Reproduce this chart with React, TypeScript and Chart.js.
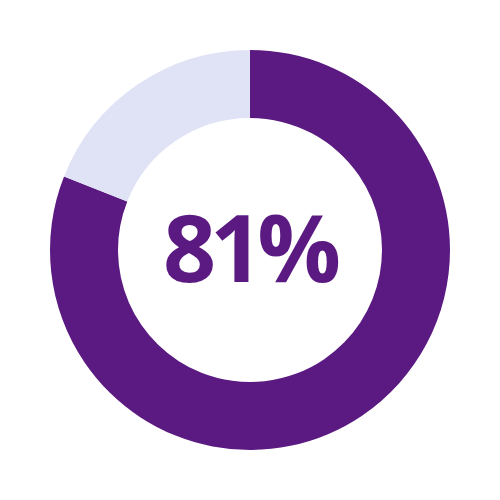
import React, { useEffect, useRef } from "react";
import { Chart, registerables, Plugin } from "chart.js";

Chart.register(...registerables);

const labels: string[] = ["Yes", "No"];
const values: number[] = [81, 19];
const colors: string[] = ["#5B1A81", "#DFE3F5"];
const centerLabel = "81%";

const centerText: Plugin<"doughnut"> = {
	id: "centerText",
	afterDraw(chart) {
		const { ctx, chartArea } = chart;
		const x = (chartArea.left + chartArea.right) / 2;
		const y = (chartArea.top + chartArea.bottom) / 2;
		ctx.save();
		ctx.fillStyle = colors[0];
		ctx.font = "bold 93px 'Open Sans'";
		(ctx as any).letterSpacing = "-6px";
		ctx.textAlign = "center";
		ctx.textBaseline = "alphabetic";
		ctx.fillText(centerLabel, x - 1, y + 32);
		ctx.restore();
	},
};

const App: React.FC = () => {
	const chartRef = useRef<HTMLCanvasElement>(null);
	const chartInstance = useRef<Chart<"doughnut"> | null>(null);

	useEffect(() => {
		if (chartRef.current) {
			if (chartInstance.current) {
				chartInstance.current.destroy();
			}
			chartInstance.current = new Chart(chartRef.current, {
				type: "doughnut",
				data: {
					labels,
					datasets: [
						{
							data: values,
							backgroundColor: colors,
							borderWidth: 0,
						},
					],
				},
				options: {
					animation: false,
					responsive: true,
					maintainAspectRatio: false,
					radius: 200,
					cutout: "66%",
					layout: { padding: 0 },
					plugins: {
						legend: { display: false },
						tooltip: { enabled: false },
					},
				},
				plugins: [centerText],
			});
		}

		// Clean up on unmount
		return () => {
			if (chartInstance.current) {
				chartInstance.current.destroy();
				chartInstance.current = null;
			}
		};
	}, []);

	return (
		<div style={{ position: "fixed", left: 0, top: 0, width: 500, height: 500, background: "#fff" }}>
			<canvas ref={chartRef}></canvas>
		</div>
	);
};

export default App;
